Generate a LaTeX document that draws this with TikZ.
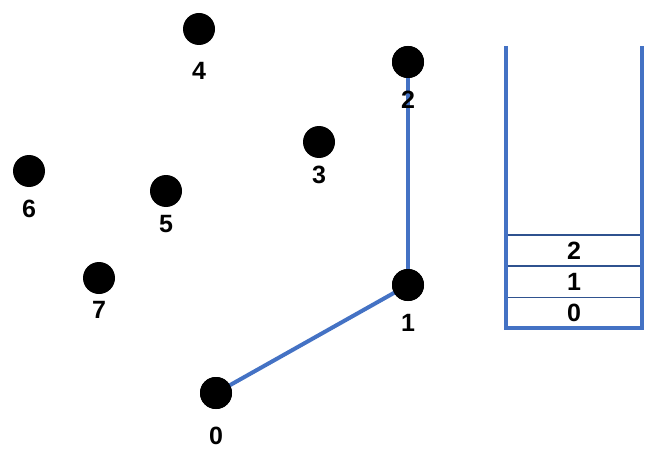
\documentclass[tikz,border=0pt]{standalone}
\usepackage{fontspec}
\setmainfont{Liberation Sans}
\definecolor{edgeblue}{HTML}{4472C4}
\definecolor{boxblue}{HTML}{2F528F}
\tikzset{
  vertex/.style={circle,fill=black,inner sep=0pt,minimum size=32pt},
  vlabel/.style={inner sep=0pt,font=\fontsize{25}{30}\selectfont\bfseries},
  edge/.style={draw=edgeblue,line width=4pt},
  wall/.style={draw=edgeblue,line width=4pt},
  cell/.style={draw=boxblue,line width=1.5pt,minimum width=135pt,minimum height=31pt,inner sep=0pt,font=\fontsize{25}{30}\selectfont\bfseries}
}
\begin{document}
\begin{tikzpicture}[x=1pt,y=-1pt]
\useasboundingbox (0,0) rectangle (668,457);
% vertices
\node[vertex] (v0) at (216,393) {};
\node[vertex] (v1) at (408,285) {};
\node[vertex] (v2) at (408,62) {};
\node[vertex] (v3) at (319,142) {};
\node[vertex] (v4) at (199,29) {};
\node[vertex] (v5) at (166,191) {};
\node[vertex] (v6) at (29,171) {};
\node[vertex] (v7) at (99,278) {};
% edges
\draw[edge] (v2.center) -- (v1.center);
\draw[edge] (v1.center) -- (v0.center);
% redraw vertices on top
\node[vertex] at (v0) {};
\node[vertex] at (v1) {};
\node[vertex] at (v2) {};
% labels
\node[vlabel] (l0) at (216,436) {0};
\node[vlabel] (l1) at (408,323) {1};
\node[vlabel] (l2) at (408,100) {2};
\node[vlabel] (l3) at (319,175) {3};
\node[vlabel] (l4) at (199,71) {4};
\node[vlabel] (l5) at (166,224) {5};
\node[vlabel] (l6) at (29,209) {6};
\node[vlabel] (l7) at (99,310) {7};
% stack cells
\node[cell] (c0) at (574,313) {0};
\node[cell] (c1) at (574,282) {1};
\node[cell] (c2) at (574,250.5) {2};
% stack walls
\coordinate (tl) at (506,46);
\coordinate (bl) at (506,328);
\coordinate (br) at (642,328);
\coordinate (tr) at (642,46);
\draw[wall] (tl) -- (bl) -- (br) -- (tr);
\end{tikzpicture}
\end{document}
